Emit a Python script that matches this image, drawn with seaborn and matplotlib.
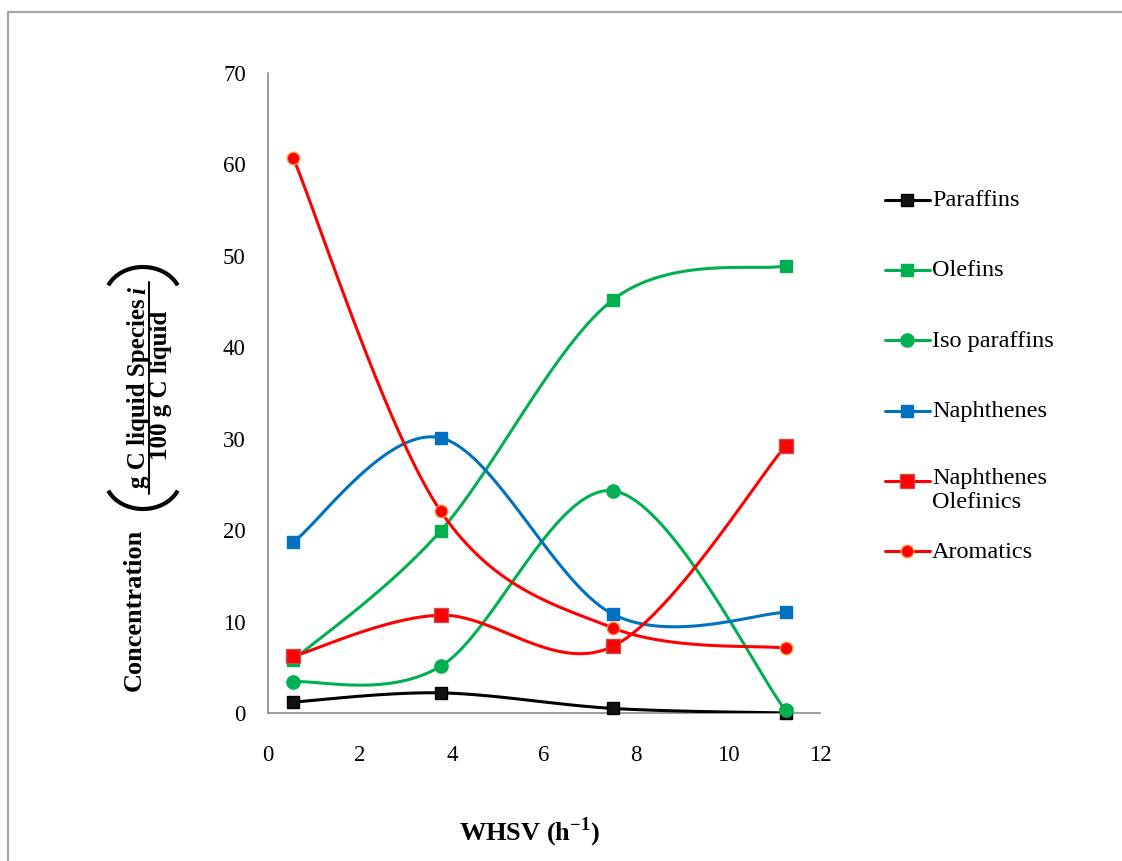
import numpy as np
import pandas as pd
import matplotlib
matplotlib.use("Agg")
import matplotlib.pyplot as plt
import seaborn as sns
from matplotlib.patches import Arc
from matplotlib.lines import Line2D

# ---------------- data ----------------
whsv = [0.55, 3.75, 7.5, 11.25]
paraffins = [1.2, 2.2, 0.5, 0.0]
olefins = [5.8, 19.9, 45.2, 48.9]
isoparaffins = [3.4, 5.1, 24.3, 0.3]
naphthenes = [18.7, 30.1, 10.8, 11.0]
naphthenes_olefinics = [6.2, 10.7, 7.3, 29.2]
aromatics = [60.7, 22.1, 9.3, 7.1]

series_names = ["Paraffins", "Olefins", "Isoparaffins", "Naphthenes",
                "Naphthenes Olefinics", "Aromatics"]
legend_labels = ["Paraffins", "Olefins", "Iso paraffins", "Naphthenes",
                 "Naphthenes\nOlefinics", "Aromatics"]
series_values = [paraffins, olefins, isoparaffins, naphthenes,
                 naphthenes_olefinics, aromatics]
x_ticks = [0, 2, 4, 6, 8, 10, 12]
y_ticks = [0, 10, 20, 30, 40, 50, 60, 70]

# ---------------- styles ----------------
styles = {
    "Paraffins": dict(color="#000000", marker="s", mfc="#111111", mec="#000000", ms=9),
    "Olefins": dict(color="#00B050", marker="s", mfc="#00B050", mec="#00B050", ms=9),
    "Isoparaffins": dict(color="#00B050", marker="o", mfc="#00B050", mec="#00B050", ms=9.5),
    "Naphthenes": dict(color="#0070C0", marker="s", mfc="#0070C0", mec="#0070C0", ms=9),
    "Naphthenes Olefinics": dict(color="#FF0000", marker="s", mfc="#FF0000", mec="#C0504D", ms=9.5),
    "Aromatics": dict(color="#FF0000", marker="o", mfc="#FF0000", mec="#F79646", ms=9),
}


def smooth(xs, ys, n=40):
    """Excel-like smoothed line rendering (Catmull-Rom Bezier)."""
    P = np.column_stack([xs, ys]).astype(float)
    P = np.vstack([P[0], P, P[-1]])
    out = []
    t = np.linspace(0, 1, n)[:, None]
    for i in range(1, len(P) - 2):
        p0, p1, p2, p3 = P[i - 1], P[i], P[i + 1], P[i + 2]
        c1 = p1 + (p2 - p0) / 6.0
        c2 = p2 - (p3 - p1) / 6.0
        seg = ((1 - t) ** 3) * p1 + 3 * ((1 - t) ** 2) * t * c1 + 3 * (1 - t) * t ** 2 * c2 + t ** 3 * p2
        out.append(seg if i == 1 else seg[1:])
    out = np.vstack(out)
    return out[:, 0], out[:, 1]


sns.set_theme(style="white")
plt.rcParams["font.family"] = ["Liberation Serif", "DejaVu Serif"]
plt.rcParams["text.color"] = "black"
plt.rcParams["axes.labelcolor"] = "black"
plt.rcParams["xtick.color"] = "black"
plt.rcParams["ytick.color"] = "black"
plt.rcParams["mathtext.fontset"] = "custom"
plt.rcParams["mathtext.rm"] = "Liberation Serif"
plt.rcParams["mathtext.bf"] = "Liberation Serif:bold"

W, H = 1122, 861
fig = plt.figure(figsize=(W / 100, H / 100), dpi=100)
fig.patch.set_facecolor("white")

# main axes in pixel layout: x 268..820, y 73..713
ax = fig.add_axes([268 / W, 1 - 713 / H, (820 - 268) / W, (713 - 73) / H])

for name, vals in zip(series_names, series_values):
    st = styles[name]
    sx, sy = smooth(whsv, vals)
    df_s = pd.DataFrame({"x": sx, "y": sy})
    sns.lineplot(data=df_s, x="x", y="y", ax=ax, sort=False, color=st["color"],
                 linewidth=2.2, zorder=3)
    df_p = pd.DataFrame({"x": whsv, "y": vals})
    ax.plot(df_p["x"], df_p["y"], linestyle="none", marker=st["marker"],
            markersize=st["ms"], markerfacecolor=st["mfc"],
            markeredgecolor=st["mec"], markeredgewidth=1.0, zorder=4, clip_on=False)

ax.set_xlim(0, 12)
ax.set_ylim(0, 70)
ax.set_xticks(x_ticks)
ax.set_yticks(y_ticks)
ax.set_xticklabels([str(v) for v in x_ticks], fontsize=16.5)
ax.set_yticklabels([str(v) for v in y_ticks], fontsize=16.5)
ax.set_xlabel("")
ax.set_ylabel("")
for s in ["top", "right"]:
    ax.spines[s].set_visible(False)
for s in ["left", "bottom"]:
    ax.spines[s].set_color("#8C8C8C")
    ax.spines[s].set_linewidth(1.2)
ax.tick_params(axis="both", which="major", direction="out", length=8, width=1.2,
               color="#8C8C8C", labelcolor="#000000")
ax.tick_params(axis="y", pad=8)
ax.tick_params(axis="x", pad=15)
ax.set_facecolor("white")
ax.patch.set_alpha(0)
ax.grid(False)

# overlay axes in pixel coordinates for annotations
ov = fig.add_axes([0, 0, 1, 1], zorder=-1)
ov.set_xlim(0, W)
ov.set_ylim(H, 0)
ov.axis("off")

# outer chart border
ov.plot([8.5, 8.5, W + 5], [H + 5, 12, 12], color="#A6A6A6", linewidth=1.6)

# x label
ov.text(530, 832, r"WHSV (h$^{\mathbf{-1}}$)", fontsize=19, fontweight="bold",
        ha="center", va="center", color="black")

# y label
ov.text(134, 610, "Concentration", fontsize=19, fontweight="bold",
        rotation=90, ha="center", va="center", color="black")
ov.text(139, 393, "g C liquid Species", fontsize=18, fontweight="bold",
        rotation=90, ha="center", va="center", color="black")
ov.text(139, 290, "i", fontsize=18, fontweight="bold", style="italic",
        rotation=90, ha="center", va="center", color="black")
ov.plot([149, 149], [494, 282], color="black", linewidth=1.4)
ov.text(161, 385, "100 g C liquid", fontsize=18, fontweight="bold",
        rotation=90, ha="center", va="center", color="black")
# large parentheses
ov.add_patch(Arc((143, 298), 76, 62, theta1=200, theta2=340, color="black", linewidth=3.0))
ov.add_patch(Arc((143, 478), 76, 62, theta1=20, theta2=160, color="black", linewidth=3.0))

# legend (manual layout)
leg_y = [200, 270, 340, 411, 481, 551]
for name, lab, y in zip(series_names, legend_labels, leg_y):
    st = styles[name]
    ov.add_line(Line2D([885, 930], [y, y], color=st["color"], linewidth=2.2))
    ov.add_line(Line2D([907], [y], linestyle="none", marker=st["marker"],
                       markersize=st["ms"], markerfacecolor=st["mfc"],
                       markeredgecolor=st["mec"]))
    if "\n" in lab:
        ov.text(932, y - 13, lab, fontsize=17.5, ha="left", va="top",
                linespacing=1.2, color="black")
    else:
        ov.text(932, y + 1, lab, fontsize=17.5, ha="left", va="center", color="black")

fig.savefig("out.png", dpi=100, facecolor="white")
